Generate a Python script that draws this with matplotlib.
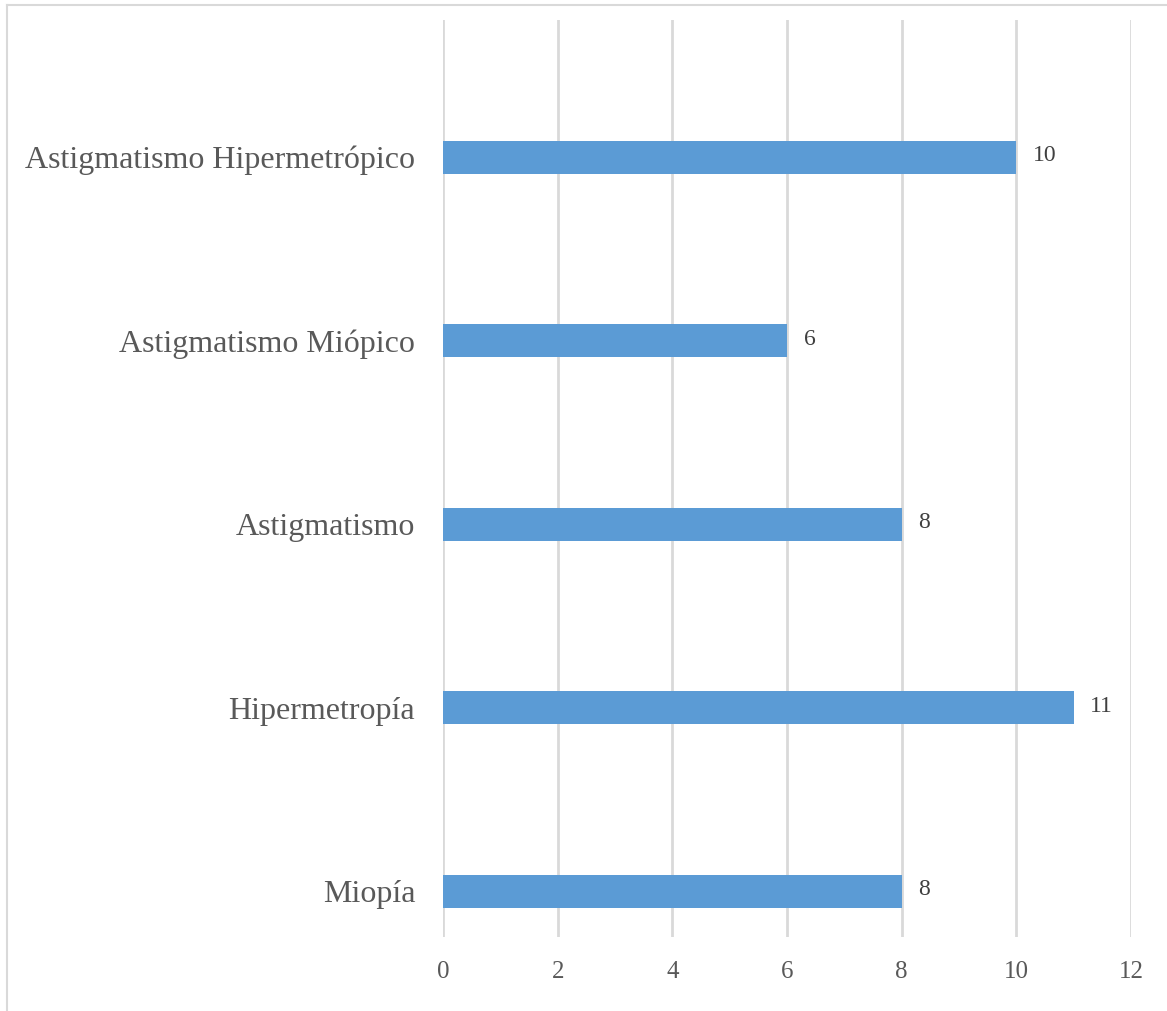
import matplotlib
matplotlib.use("Agg")
import matplotlib.pyplot as plt
from matplotlib.lines import Line2D

categories = ["Miopía", "Hipermetropía", "Astigmatismo",
              "Astigmatismo Miópico", "Astigmatismo Hipermetrópico"]
values = [8, 11, 8, 6, 10]
x_ticks = [0, 2, 4, 6, 8, 10, 12]

BAR = "#5B9BD5"
TEXT = "#595959"
GRID = "#D9D9D9"

plt.rcParams["font.family"] = ["Liberation Serif", "DejaVu Serif"]

W, H = 1167, 1011
fig = plt.figure(figsize=(W / 100, H / 100), dpi=100)

# plot area in pixel terms
left, right, top, bottom = 443, 1131, 20, 937
ax = fig.add_axes([left / W, 1 - bottom / H, (right - left) / W, (bottom - top) / H])

pos = list(range(len(categories)))
ax.barh(pos, values, height=0.18, color=BAR, zorder=3)

ax.set_xlim(0, 12)
ax.set_ylim(-0.25, 4.747)
ax.set_xticks(x_ticks)
ax.set_xticklabels([str(t) for t in x_ticks])
ax.set_yticks(pos)
ax.set_yticklabels(categories)

ax.grid(axis="x", color=GRID, linewidth=2.0, zorder=0)
ax.grid(axis="y", visible=False)
for s in ax.spines.values():
    s.set_visible(False)

ax.tick_params(axis="x", length=0, pad=17, labelsize=18, labelcolor=TEXT)
ax.tick_params(axis="y", length=0, pad=20, labelsize=23, labelcolor=TEXT)

for p, v in zip(pos, values):
    ax.annotate(str(v), xy=(v, p), xytext=(12, 1), textcoords="offset points",
                ha="left", va="center", fontsize=17, color="#404040")

# chart frame (top and left edges)
fig.add_artist(Line2D([7 / W, 1], [1 - 5 / H, 1 - 5 / H], color=GRID, linewidth=1.5,
                      transform=fig.transFigure))
fig.add_artist(Line2D([7 / W, 7 / W], [0, 1 - 5 / H], color=GRID, linewidth=1.5,
                      transform=fig.transFigure))

fig.savefig("out.png", dpi=100, facecolor="white")
